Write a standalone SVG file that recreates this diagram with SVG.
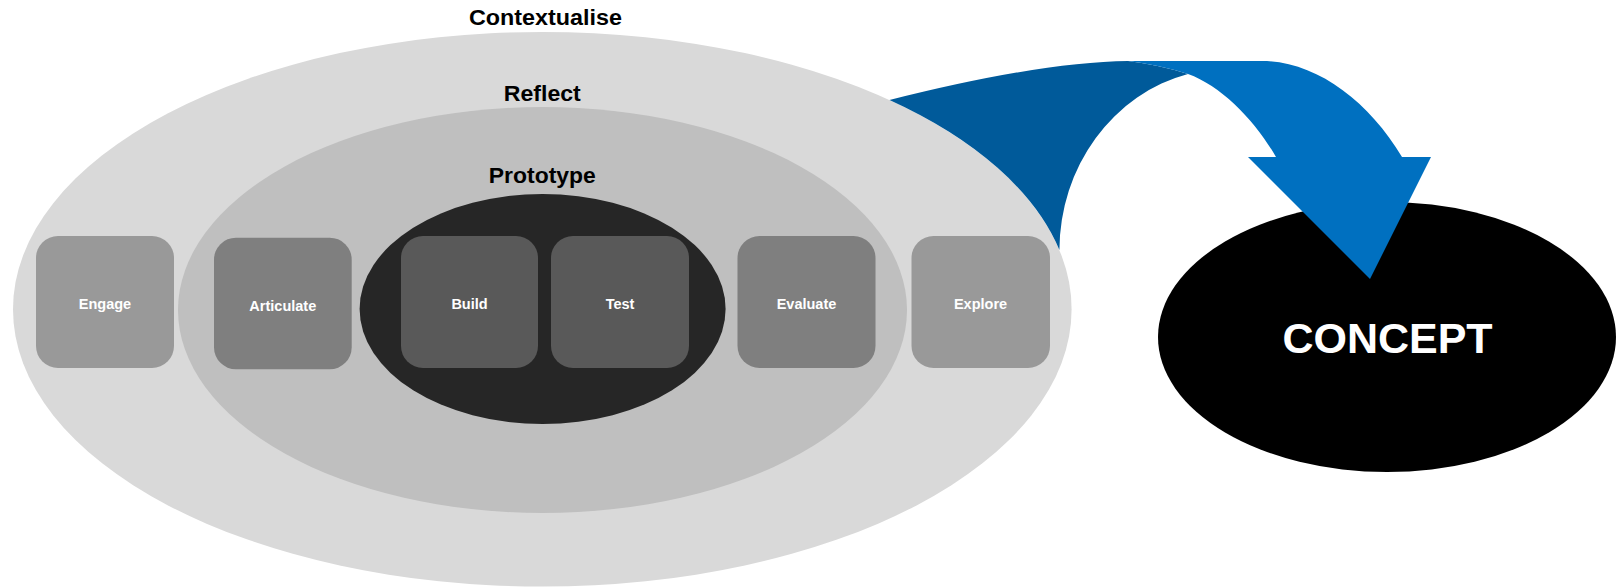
<svg xmlns="http://www.w3.org/2000/svg" width="1618" height="588" viewBox="0 0 1618 588">
  <style>
    .ring-label { font-family: "Liberation Sans", Arial, sans-serif; font-weight: bold; font-size: 22px; fill: #000000; text-anchor: middle; }
    .step { stroke: none; }
    .step-label { font-family: "Liberation Sans", Arial, sans-serif; font-weight: bold; font-size: 14.5px; fill: #ffffff; text-anchor: middle; }
    .outer { fill: #d9d9d9; }
    .mid { fill: #bfbfbf; }
    .inner { fill: #262626; }
    .tone-light { fill: #999999; }
    .tone-mid { fill: #7f7f7f; }
    .tone-dark { fill: #595959; }
    .concept-label { font-family: "Liberation Sans", Arial, sans-serif; font-weight: bold; font-size: 43px; fill: #ffffff; text-anchor: middle; }
  </style>

  <!-- nested phases -->
  <g id="contextualise">
    <ellipse class="outer" cx="542.3" cy="309.3" rx="529.3" ry="277.3"/>
    <text class="ring-label" x="545.5" y="24.5" textLength="153" lengthAdjust="spacingAndGlyphs">Contextualise</text>
  </g>
  <g id="reflect">
    <ellipse class="mid" cx="542.5" cy="310" rx="364.5" ry="203"/>
    <text class="ring-label" x="542.3" y="100.5" textLength="77" lengthAdjust="spacingAndGlyphs">Reflect</text>
  </g>
  <g id="prototype">
    <ellipse class="inner" cx="542.6" cy="309" rx="183" ry="115"/>
    <text class="ring-label" x="542.3" y="183" textLength="107" lengthAdjust="spacingAndGlyphs">Prototype</text>
  </g>

  <!-- activity steps -->
  <g id="engage">
    <rect class="step tone-light" x="36" y="236" width="138" height="132" rx="22" ry="22"/>
    <text class="step-label" x="105" y="309">Engage</text>
  </g>
  <g id="articulate">
    <rect class="step tone-mid" x="214" y="237.7" width="137.7" height="131.6" rx="22" ry="22"/>
    <text class="step-label" x="282.8" y="310.5">Articulate</text>
  </g>
  <g id="build">
    <rect class="step tone-dark" x="401" y="236" width="137" height="132" rx="22" ry="22"/>
    <text class="step-label" x="469.5" y="309">Build</text>
  </g>
  <g id="test">
    <rect class="step tone-dark" x="551" y="236" width="138" height="132" rx="22" ry="22"/>
    <text class="step-label" x="620" y="309">Test</text>
  </g>
  <g id="evaluate">
    <rect class="step tone-mid" x="737.5" y="236" width="138" height="132" rx="22" ry="22"/>
    <text class="step-label" x="806.5" y="309">Evaluate</text>
  </g>
  <g id="explore">
    <rect class="step tone-light" x="911.5" y="236" width="138.5" height="132" rx="22" ry="22"/>
    <text class="step-label" x="980.5" y="309">Explore</text>
  </g>

  <!-- outcome -->
  <g id="concept">
    <ellipse cx="1387" cy="337" rx="229" ry="135" fill="#000000"/>
    <text class="concept-label" x="1387.5" y="353">CONCEPT</text>
  </g>

  <!-- curved arrow from the phases to the concept -->
  <g id="connectors">
    <path fill="#005a9a" d="M 889.5 100 Q 1040 62 1128 61 Q 1160 65 1188 74 A 169 182 0 0 0 1059.4 250 A 529.3 277.3 0 0 0 889.5 100 Z"/>
    <path fill="#0070c0" d="M 1128 61 L 1262 61 C 1315 61 1368 100 1402 157 L 1431 157 L 1370 279 L 1248 157 L 1276 157 C 1256 122 1222 86 1188 74 Q 1160 65 1128 61 Z"/>
  </g>
</svg>
